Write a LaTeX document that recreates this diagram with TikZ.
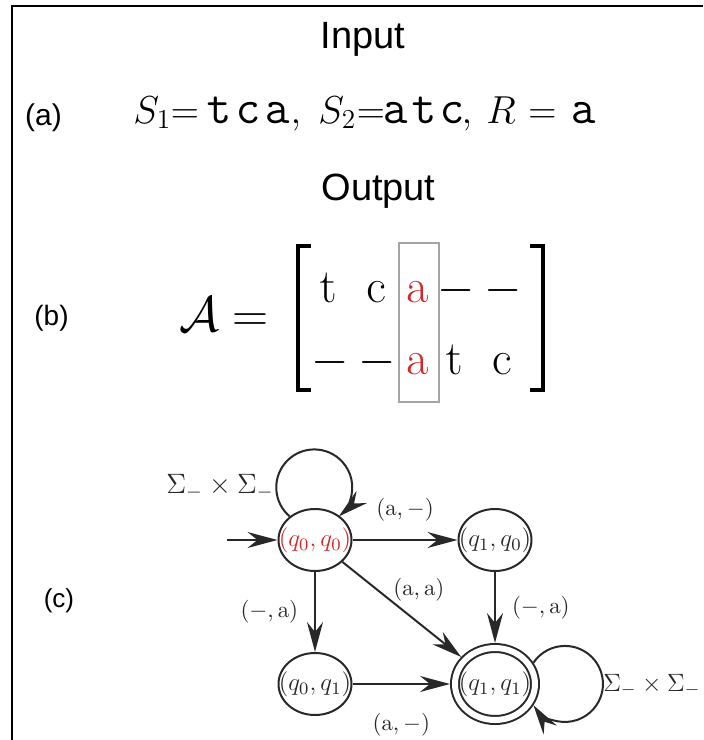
\RequirePackage{fix-cm}
\documentclass[tikz,border=0pt]{standalone}
\usepackage{amsmath}
\usepackage[no-math]{fontspec}
\setmainfont{Liberation Sans}
\usetikzlibrary{arrows.meta,shapes.geometric,positioning}
\definecolor{hlred}{RGB}{210,40,40}
\definecolor{boxgray}{RGB}{165,165,165}
\definecolor{inkgray}{RGB}{40,40,40}
\newcommand{\sCell}[2]{\makebox[#1pt][c]{\ensuremath{#2}}}

\begin{document}
\begin{tikzpicture}[x=0.5pt,y=-0.5pt,
  txt/.style={anchor=base, inner sep=0pt},
  fml/.style={txt, font=\fontsize{19.5}{23}\selectfont},
  ttc/.style={txt, font=\fontencoding{OT1}\fontfamily{cmtt}\fontsize{24}{28}\selectfont},
  mtx/.style={txt, font=\fontsize{24}{29}\selectfont},
  state/.style={ellipse, draw=inkgray, line width=1pt, inner sep=0pt, minimum width=36.5pt, minimum height=31pt, text=inkgray, font=\fontsize{12.5}{15}\selectfont},
  final/.style={state, double, double distance=3pt, minimum width=40pt, minimum height=36pt, outer sep=2.5pt},
  arr/.style={draw=inkgray, line width=1pt, -{Stealth[length=15pt,width=8pt,inset=5pt]}},
  elbl/.style={text=inkgray, font=\fontsize{11.5}{14}\selectfont, inner sep=0pt}]
\useasboundingbox (0,0) rectangle (703,740);
\draw[line width=1pt] (12,740) -- (12,6) -- (703,6);
% (a) input
\node[txt, font=\fontsize{19}{23}\selectfont] (inp) at (363,48) {Input};
\node[txt, font=\fontsize{15}{18}\selectfont] (la) at (43.5,125) {(a)};
\node[fml, anchor=base west] (s1) at (133,123) {$S_1$};
\node[fml] (e1) at (185,123) {$=$};
\node[ttc] (a11) at (219,123) {t};
\node[ttc] (a12) at (248,123) {c};
\node[ttc] (a13) at (277,123) {a};
\node[fml] (c1) at (296,123) {$,$};
\node[fml, anchor=base west] (s2) at (318,123) {$S_2$};
\node[fml] (e2) at (371,123) {$=$};
\node[ttc] (a21) at (395,123) {a};
\node[ttc] (a22) at (424,123) {t};
\node[ttc] (a23) at (452,123) {c};
\node[fml] (c2) at (467,123) {$,$};
\node[fml, anchor=base west] (r) at (486,123) {$R$};
\node[fml] (e3) at (542.5,123) {$=$};
\node[ttc] (a31) at (583,123) {a};
% (b) output
\node[txt, font=\fontsize{19}{23}\selectfont] (outp) at (378.5,200) {Output};
\node[txt, font=\fontsize{14}{17}\selectfont] (lb) at (51.5,325) {(b)};
\node[txt, font=\fontsize{25}{30}\selectfont] (calA) at (199,331) {$\mathcal{A}$};
\node[txt, font=\fontsize{25}{30}\selectfont] (eq) at (250,331) {$=$};
\node[draw=boxgray, line width=0.6pt, minimum width=20pt, minimum height=79.5pt] (hl) at (419,322.5) {};
\draw[line width=2pt] (311,246) -- (298,246) -- (298,390) -- (311,390);
\draw[line width=2pt] (530,246) -- (543,246) -- (543,390) -- (530,390);
\node[mtx] (m11) at (328,302) {$\mathrm{t}$};
\node[mtx] (m12) at (376,302) {$\mathrm{c}$};
\node[mtx, text=hlred] (m13) at (417,302) {$\mathrm{a}$};
\node[mtx] (m14) at (456,302) {$-$};
\node[mtx] (m15) at (503,302) {$-$};
\node[mtx] (m21) at (330,374) {$-$};
\node[mtx] (m22) at (377,374) {$-$};
\node[mtx, text=hlred] (m23) at (417,374) {$\mathrm{a}$};
\node[mtx] (m24) at (454,374) {$\mathrm{t}$};
\node[mtx] (m25) at (502,374) {$\mathrm{c}$};
% (c) automaton
\node[txt, font=\fontsize{13}{16}\selectfont] (lc) at (59,607) {(c)};
\node[state, text=hlred] (q00) at (315,540) {\sCell{20}{(q_0,q_0)}};
\node[state] (q10) at (495,540) {\sCell{20}{(q_1,q_0)}};
\node[state] (q01) at (315,684) {\sCell{20}{(q_0,q_1)}};
\node[final] (q11) at (495,684) {\sCell{20}{(q_1,q_1)}};
\coordinate (start) at (227,540);
\draw[arr] (start) -- (q00);
\draw[arr] (q00) -- node[elbl, above=9pt] {$(\mathrm{a},-)$} (q10);
\draw[arr] (q00) -- node[elbl, left=8pt] {$(-,\mathrm{a})$} (q01);
\draw[arr] (q10) -- node[elbl, right=8pt] {$(-,\mathrm{a})$} (q11);
\draw[arr] (q01) -- node[elbl, below=14pt] {$(\mathrm{a},-)$} (q11);
\draw[arr] (q00) -- node[elbl, pos=.42, anchor=south west] {$(\mathrm{a},\mathrm{a})$} (q11);
\draw[arr] (q00.137) arc[start angle=229.7, end angle=-49.7, radius=19pt];
\draw[arr] (q11.29) arc[start angle=146, end angle=-146, radius=19pt];
\node[elbl, anchor=base east, font=\fontsize{14}{17}\selectfont] (sigL) at (274,493) {$\Sigma_{-}\times\Sigma_{-}$};
\node[elbl, anchor=base west, font=\fontsize{12.5}{15}\selectfont] (sigR) at (603,691) {$\Sigma_{-}\times\Sigma_{-}$};
\end{tikzpicture}
\end{document}
